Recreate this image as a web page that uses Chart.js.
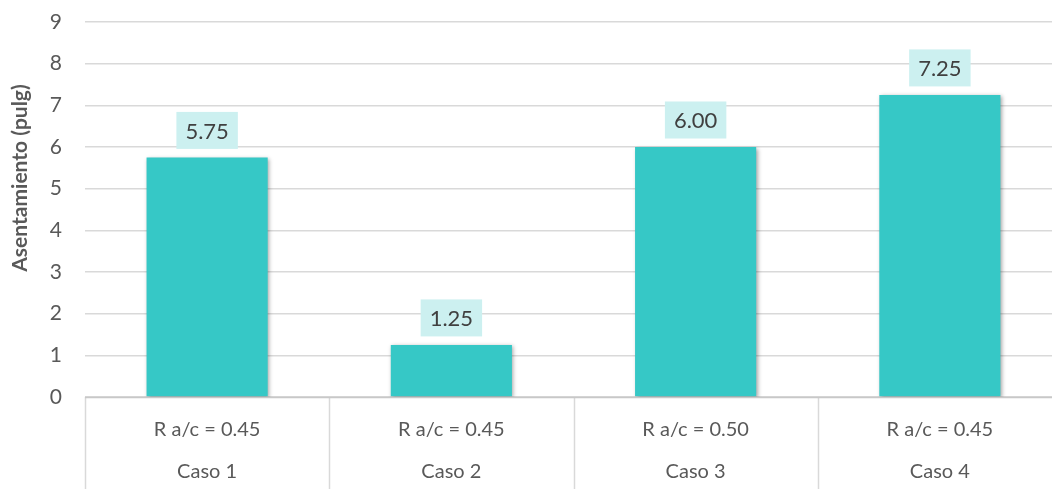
<!DOCTYPE html>
<html>
<head>
<meta charset="utf-8">
<script src="https://cdn.jsdelivr.net/npm/chart.js@4/dist/chart.umd.min.js"></script>
<style>
  html, body { margin: 0; padding: 0; background: #ffffff; }
  #clip { width: 1052px; height: 489px; overflow: hidden; position: relative; }
  #wrap { width: 1062px; height: 489px; position: absolute; left: 0; top: 0; }
</style>
</head>
<body>
<div id="clip"><div id="wrap"><canvas id="c"></canvas></div></div>
<script>
const categories = ['Caso 1', 'Caso 2', 'Caso 3', 'Caso 4'];
const ratioLabels = ['R a/c = 0.45', 'R a/c = 0.45', 'R a/c = 0.50', 'R a/c = 0.45'];
const asentamiento = [5.75, 1.25, 6.00, 7.25];
const yMin = 0;
const yMax = 9;
const yStep = 1;
const yTitle = 'Asentamiento (pulg)';

const FONT = 'Lato, Carlito, Calibri, "Open Sans", sans-serif';
const BAR_COLOR = '#36C8C6';
const LABEL_BG = '#CCF0F0';
const GRID = '#D9D9D9';

const decorPlugin = {
  id: 'decor',
  beforeDatasetsDraw(chart) {
    const ctx = chart.ctx;
    ctx.save();
    ctx.shadowColor = 'rgba(0,0,0,0.35)';
    ctx.shadowBlur = 4;
    ctx.shadowOffsetX = 1.5;
    ctx.shadowOffsetY = 1.5;
  },
  afterDatasetsDraw(chart) {
    const ctx = chart.ctx;
    ctx.restore();
    const meta = chart.getDatasetMeta(0);
    ctx.save();
    ctx.font = '22px ' + FONT;
    ctx.textAlign = 'center';
    ctx.textBaseline = 'middle';
    meta.data.forEach((el, i) => {
      const txt = chart.data.datasets[0].data[i].toFixed(2);
      const w = ctx.measureText(txt).width + 18;
      const h = 37;
      const bottom = el.y - 8.5;
      ctx.fillStyle = LABEL_BG;
      ctx.fillRect(el.x - w / 2, bottom - h, w, h);
      ctx.fillStyle = '#404040';
      ctx.fillText(txt, el.x, bottom - h / 2 + 1);
    });
    ctx.restore();
  },
  afterDraw(chart) {
    const ctx = chart.ctx;
    const xs = chart.scales.x;
    const area = chart.chartArea;
    const n = chart.data.labels.length;
    const step = xs.getPixelForValue(1) - xs.getPixelForValue(0);
    ctx.save();
    ctx.strokeStyle = GRID;
    ctx.lineWidth = 1.5;
    for (let i = 0; i <= n; i++) {
      const px = Math.round(xs.getPixelForValue(i) - step / 2) + 0.5;
      ctx.beginPath();
      ctx.moveTo(px, area.bottom);
      ctx.lineTo(px, chart.height);
      ctx.stroke();
    }
    ctx.strokeStyle = '#C8C8C8';
    ctx.lineWidth = 1.5;
    ctx.beginPath();
    ctx.moveTo(area.left, Math.round(area.bottom) + 0.5);
    ctx.lineTo(area.right, Math.round(area.bottom) + 0.5);
    ctx.stroke();
    // y-axis title
    ctx.fillStyle = '#595959';
    ctx.font = 'bold 21px ' + FONT;
    ctx.textAlign = 'center';
    ctx.textBaseline = 'middle';
    ctx.translate(20, 178);
    ctx.rotate(-Math.PI / 2);
    ctx.fillText(yTitle, 0, 0);
    ctx.restore();
  }
};

new Chart(document.getElementById('c'), {
  type: 'bar',
  data: {
    labels: categories.map((c, i) => [ratioLabels[i], c]),
    datasets: [{
      data: asentamiento,
      backgroundColor: BAR_COLOR,
      borderWidth: 0,
      categoryPercentage: 1.0,
      barPercentage: 0.496
    }]
  },
  options: {
    responsive: true,
    maintainAspectRatio: false,
    animation: false,
    devicePixelRatio: 1,
    layout: { padding: { top: 22, left: 0, right: 0, bottom: 0 } },
    plugins: {
      legend: { display: false },
      tooltip: { enabled: false },
      title: { display: false }
    },
    scales: {
      y: {
        min: yMin,
        max: yMax,
        ticks: {
          stepSize: yStep,
          color: '#595959',
          font: { family: FONT, size: 21 },
          padding: 0
        },
        grid: { color: GRID, lineWidth: 1.5, drawTicks: true, tickLength: 23, tickColor: 'rgba(0,0,0,0)' },
        border: { display: false },
        afterFit(scale) { scale.width = 85; }
      },
      x: {
        ticks: {
          color: '#595959',
          font: { family: FONT, size: 20, lineHeight: 2.1 },
          padding: 12,
          maxRotation: 0,
          autoSkip: false
        },
        grid: { display: false, drawTicks: false },
        border: { display: false },
        afterFit(scale) { scale.height = 92; }
      }
    }
  },
  plugins: [decorPlugin]
});
</script>
</body>
</html>
